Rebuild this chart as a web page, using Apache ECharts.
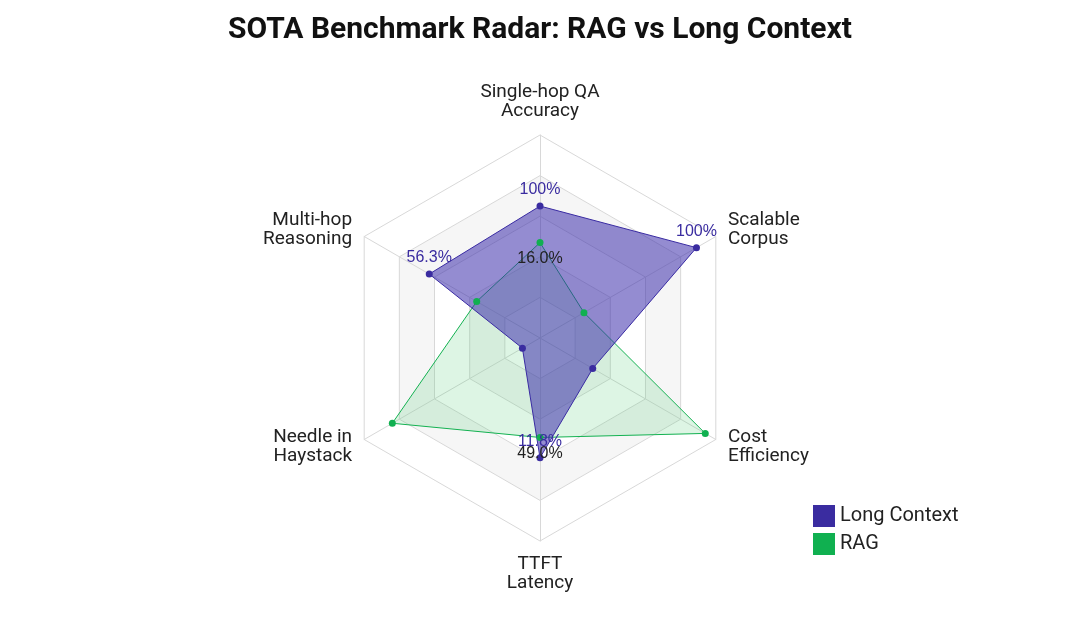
<!DOCTYPE html>
<html>
<head>
<meta charset="utf-8">
<script src="https://cdn.jsdelivr.net/npm/echarts@6/dist/echarts.min.js"></script>
<style>html,body{margin:0;background:#fff}#chart{width:1080px;height:617px}</style>
</head>
<body>
<div id="chart"></div>
<script>
// ECharts radar runs counter-clockwise, so axes are listed top, upper-left, lower-left, bottom, lower-right, upper-right
var indicators = ['Single-hop QA\nAccuracy', 'Multi-hop\nReasoning', 'Needle in\nHaystack', 'TTFT\nLatency', 'Cost\nEfficiency', 'Scalable\nCorpus'];
var longContext = [0.65, 0.63, 0.1, 0.59, 0.3, 0.89];
var rag = [0.47, 0.36, 0.84, 0.49, 0.94, 0.25];
var longLabels = ['100%', '56.3%', '', '11.8%', '', '100%'];
var ragLabels = ['16.0%', '', '', '49.0%', '', ''];
var longPos = ['top', 'top', 'top', 'left', 'top', 'left'];

var chart = echarts.init(document.getElementById('chart'));
chart.setOption({
    title: {
        text: 'SOTA Benchmark Radar: RAG vs Long Context',
        left: 'center', top: 10,
        textStyle: {fontSize: 30, fontWeight: 'bold', color: '#111', fontFamily: 'Roboto'}
    },
    legend: {
        orient: 'vertical', left: 808, top: 500,
        itemWidth: 22, itemHeight: 22, itemGap: 6, icon: 'rect',
        textStyle: {fontSize: 20, color: '#222', fontFamily: 'Roboto'},
        data: ['Long Context', 'RAG']
    },
    radar: {
        center: [540, 338],
        radius: 203,
        startAngle: 90,
        splitNumber: 5,
        shape: 'polygon',
        indicator: indicators.map(function(n){ return {name: n, max: 1}; }),
        axisName: {color: '#222', fontSize: 19, fontFamily: 'Roboto'},
        nameGap: 14,
        splitLine: {lineStyle: {color: '#d8d8d8'}},
        splitArea: {areaStyle: {color: ['#ffffff', '#f6f6f6']}},
        axisLine: {lineStyle: {color: '#d8d8d8'}}
    },
    series: [{
        type: 'radar',
        symbol: 'circle', symbolSize: 7,
        data: [{
            name: 'RAG',
            value: rag,
            itemStyle: {color: '#10b050'},
            lineStyle: {color: '#10b050', width: 1},
            areaStyle: {color: 'rgba(60,200,100,0.25)'},
            label: {show: true, color: '#222', fontSize: 16, position: 'bottom',
                formatter: function(p){ return ragLabels[p.dimensionIndex] || ''; }}
        }, {
            name: 'Long Context',
            value: longContext,
            itemStyle: {color: '#3a2ca0'},
            lineStyle: {color: '#3a2ca0', width: 1},
            areaStyle: {color: 'rgba(58,44,170,0.78)'},
            label: {show: true, color: '#3a2ca0', fontSize: 16, position: 'top',
                formatter: function(p){ return longLabels[p.dimensionIndex] || ''; }}
        }]
    }]
});
</script>
</body>
</html>
